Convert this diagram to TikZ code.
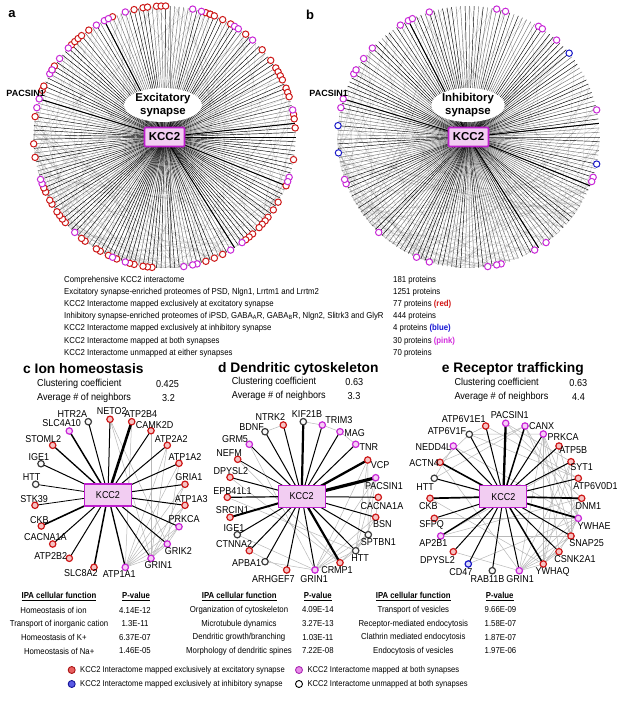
\documentclass[tikz,border=0pt]{standalone}
\usepackage{fontspec}
\setmainfont{Liberation Sans}
\newfontfamily\narrowsf[FakeStretch=0.9]{Liberation Sans}
\usetikzlibrary{shapes.geometric}
\definecolor{rS}{RGB}{205,25,25}
\definecolor{rF}{RGB}{246,196,196}
\definecolor{pS}{RGB}{200,40,215}
\definecolor{pF}{RGB}{246,205,246}
\definecolor{bS}{RGB}{25,25,200}
\definecolor{bF}{RGB}{215,215,250}
\definecolor{gS}{RGB}{60,60,60}
\definecolor{gF}{RGB}{250,250,250}
\definecolor{kF}{RGB}{242,205,242}
\definecolor{kS}{RGB}{190,30,205}
\definecolor{edgeG}{RGB}{185,185,185}
\definecolor{legRF}{RGB}{232,96,96}
\definecolor{legRS}{RGB}{170,20,20}
\definecolor{legBF}{RGB}{90,90,230}
\definecolor{legBS}{RGB}{20,20,150}
\definecolor{legPF}{RGB}{232,140,232}
\definecolor{legPS}{RGB}{170,40,180}
\definecolor{txR}{RGB}{210,20,20}
\definecolor{txB}{RGB}{20,20,210}
\definecolor{txP}{RGB}{210,40,220}

\tikzset{
 every node/.style={inner sep=0pt},
 lst/.style={anchor=west, font=\narrowsf\fontsize{8.65}{10}\selectfont},
 stat/.style={font=\narrowsf\fontsize{10.1}{12}\selectfont},
 statl/.style={anchor=west, font=\narrowsf\fontsize{10.1}{12}\selectfont},
 ttl/.style={anchor=west, font=\fontsize{13.8}{16}\selectfont\bfseries},
 plab/.style={font=\fontsize{13}{15}\selectfont\bfseries},
 nlab/.style={font=\narrowsf\fontsize{10}{11}\selectfont},
 tab/.style={font=\narrowsf\fontsize{8.65}{10}\selectfont},
 leg/.style={anchor=west, font=\narrowsf\fontsize{8.45}{10}\selectfont},
 nd/.style={circle, minimum size=6.4pt, line width=1.2pt},
 rg/.style={circle, minimum size=6.4pt, line width=1pt},
 lgc/.style={circle, minimum size=7pt, line width=0.9pt},
 kbox/.style={draw=kS, fill=kF, line width=1.3pt, minimum width=47pt, minimum height=22pt, font=\narrowsf\fontsize{10}{11}\selectfont},
 bigbox/.style={draw=kS, fill=kF, line width=1.6pt, minimum width=40pt, minimum height=19pt, rounded corners=1pt, font=\fontsize{11.5}{13}\selectfont\bfseries},
 syn/.style={ellipse, fill=white, minimum width=71pt, minimum height=33pt, align=center, font=\fontsize{11.4}{13.4}\selectfont\bfseries},
 gedge/.style={draw=edgeG, line width=0.5pt},
 chord/.style={draw=gray, line width=0.25pt, opacity=0.4},
 spoke/.style={draw=black, line width=0.45pt},
}

% ring helpers (inside a shifted scope)
\newcommand\ringlines[1]{%
 \pgfmathsetseed{#1}%
 \foreach \n in {1,...,170}{%
   \pgfmathsetmacro\ia{round(90+rnd*80)*1.98895}%
   \pgfmathsetmacro\ib{round(rnd*181)*1.98895}%
   \draw[chord] ({131*cos(\ia)},{-131*sin(\ia)}) -- ({131*cos(\ib)},{-131*sin(\ib)});
 }%
 \foreach \i in {0,...,180}{%
   \pgfmathsetmacro\a{\i*1.98895}%
   \pgfmathsetmacro\op{rnd<0.55 ? 1 : 0.55}%
   \draw[spoke, draw opacity=\op] (0,0) -- ({131*cos(\a)},{-131*sin(\a)});
 }%
 \foreach \a in {162.3, 5.3, -21, -58, 118}{%
   \pgfmathsetmacro\b{round(\a/1.98895)*1.98895}%
   \draw[spoke, line width=1pt] (0,0) -- ({131*cos(\b)},{-131*sin(\b)});
 }%
}
\newcommand\ringdots[6]{% #1 prefix, #2 list, #3 cx, #4 cy, #5 stroke, #6 fill
 \foreach \zx/\zy in #2{%
   \pgfmathsetmacro\ang{round(atan2(#4-\zy,\zx-#3)/1.98895)*1.98895}%
   \node[rg, draw=#5, fill=#6] (#1-\zx-\zy) at ({131*cos(\ang)},{-131*sin(\ang)}) {};
 }%
}
\def\pinklist{372/37,578/25,605/32,705/75,718/85,762/120,885/330,875/535,870/550,730/737,695/757,592/797,570/800,550/802,372/790,335/775,220/700,122/548,117/535,107/330,118/292,145/228,152/215,175/180,202/148,285/77,308/62,322/57}
\def\bluelist{800/158,885/497,100/457,100/373}
\def\redlist{405/30,432/22,448/20,465/20,480/20,500/18,612/38,625/42,638/45,650/48,675/60,690/70,740/100,795/150,820/180,832/205,840/215,848/228,855/240,865/265,870/280,875/292,888/345,890/360,893/385,888/480,865/565,845/608,825/635,812/650,800/663,790/680,778/690,766/700,755/710,745/718,665/768,640/780,615/788,455/800,440/798,425/795,410/792,395/787,355/780,325/760,310/752,290/745,258/728,245/712,200/665,190/655,182/645,172/630,163/610,155/598,143/578,135/565,110/467,108/428,113/345,130/268,138/255,160/205,168/195,225/135,232/125,240/115,248/108,270/95,342/55}

% small network panels
\newcommand\netpanel[4]{% #1 prefix, #2 list, #3 kcc coord, #4 gray edges
 \foreach \n/\x/\y/\sty/\lx/\ly/\w in #2 {\coordinate (#1\n) at (\x,\y);}
 \foreach \u/\v in #4 {\draw[gedge] (#1\u) -- (#1\v);}
 \coordinate (#1Kc) at #3;
 \foreach \n/\x/\y/\sty/\lx/\ly/\w in #2 {\draw[line width=\w pt] (#1Kc) -- (#1\n);}
 \node[kbox] (#1K) at (#1Kc) {KCC2};
 \foreach \n/\x/\y/\sty/\lx/\ly/\w in #2 {%
   \node[nd, draw=\sty S, fill=\sty F] (#1N\n) at (#1\n) {};
   \node[nlab] (#1L\n) at (\lx,\ly) {\n};}
}
\def\clist{HTR2A/88.3/421.7/g/72.5/414/1.0,
NETO2/110/419.3/r/111.7/410.7/1.0,
ATP2B4/131.7/421.7/r/140.8/414/2.6,
SLC4A10/69.3/431/p/61.7/423.3/1.5,
CAMK2D/151/430.7/r/154.7/425/1.0,
STOML2/52.7/445.3/r/43.3/439/1.3,
ATP2A2/167.3/445.3/r/171.2/438.7/1.0,
IGE1/41/463.7/g/38.8/457.3/1.0,
ATP1A2/179/463.3/r/185/457.3/1.0,
HTT/35.7/484.3/g/31.7/476.7/0.8,
GRIA1/185/484.3/r/188.8/477.3/1.0,
STK39/35/505.3/r/34.2/499.3/0.8,
ATP1A3/185/505.3/r/191.2/499.3/1.0,
CKB/41.3/526/r/39.5/520/1.6,
PRKCA/179/526.7/p/184.2/519.3/1.0,
CACNA1A/52.7/544/r/45.3/536.7/1.0,
GRIK2/167.3/544/p/178.3/550.7/1.0,
ATP2B2/69.3/558.3/r/50.8/556/1.0,
GRIN1/151/558.3/p/158.3/565.3/1.0,
SLC8A2/94/567.3/r/80.8/573.3/1.5,
ATP1A1/125.3/567.3/p/119.2/574/1.3}
\def\cedges{NETO2/GRIK2,ATP2B4/ATP1A1,CAMK2D/GRIN1,ATP2A2/ATP1A1,ATP2A2/GRIN1,ATP1A2/ATP1A1,ATP1A2/GRIK2,GRIA1/ATP1A1,GRIA1/GRIN1,ATP1A3/ATP1A1,ATP1A3/GRIN1,PRKCA/ATP1A1,PRKCA/GRIN1,PRKCA/GRIK2,GRIK2/ATP1A1,GRIN1/ATP1A1,GRIK2/GRIN1,NETO2/GRIN1}
\def\dlist{KIF21B/303.3/421.7/g/307/414/2.2,
NTRK2/283.3/425/r/270.3/417.3/1.0,
TRIM3/322.3/425/p/338.8/420/1.0,
BDNF/265/431.7/g/251.7/427.3/1.0,
MAG/340/431.7/p/354.5/433.3/1.0,
GRM5/249.3/444.3/p/235/438.7/1.0,
TNR/355.7/444.3/p/368.8/447.3/1.0,
NEFM/237.7/459.3/r/229/452.7/0.8,
VCP/367.7/460/r/380/465.3/2.3,
DPYSL2/230/477.3/r/230.8/471/1.0,
PACSIN1/375.7/477.7/p/384/486/3.2,
EPB41L1/227.3/497.3/r/232.5/490.7/1.2,
CACNA1A/378.3/497.3/r/382/505.7/1.0,
SRCIN1/230/517.3/r/232.5/510/2.0,
BSN/375.7/517.3/r/382.3/524/1.0,
IGE1/237.3/534.7/g/234/528.3/1.0,
SPTBN1/368.3/534.7/g/378.3/541.7/1.0,
CTNNA2/249.3/550.7/r/234.2/544/1.0,
HTT/355.7/550.7/g/360/558.3/1.0,
APBA1/265/561.7/g/246.7/563.3/1.0,
CRMP1/340/562.7/r/337/570/2.2,
ARHGEF7/286.7/570/r/273.3/579/1.0,
GRIN1/315/570/p/314.2/579/1.0}
\def\dedges{BDNF/NTRK2,KIF21B/TRIM3,MAG/TNR,TRIM3/MAG,GRM5/GRIN1,NEFM/CRMP1,DPYSL2/CRMP1,EPB41L1/HTT,IGE1/GRIN1,APBA1/GRIN1,VCP/HTT,VCP/SPTBN1,VCP/GRIN1,PACSIN1/SPTBN1,PACSIN1/HTT,PACSIN1/GRIN1,CACNA1A/BSN,BSN/GRIN1,BSN/HTT,SPTBN1/GRIN1,SPTBN1/HTT,HTT/GRIN1,HTT/CRMP1,SPTBN1/CRMP1,CTNNA2/ARHGEF7}
\def\elist{PACSIN1/505.7/423.3/p/509.7/415/2.3,
ATP6V1E1/485.7/426/r/463.8/418.7/1.0,
CANX/525/426/p/541.7/426/1.5,
ATP6V1F/469.3/434.3/g/447/431/1.0,
PRKCA/543.3/434/p/563/437.3/1.0,
NEDD4L/453.3/446/p/433.3/446.7/1.0,
ATP5B/559/446/r/573.3/450/1.0,
ACTN4/440/462.3/r/424.2/463.3/1.6,
SYT1/571/461.7/r/581.7/467.3/1.0,
HTT/434.3/478.3/g/425/486.7/1.0,
ATP6V0D1/578.3/478.3/r/595.5/486/1.0,
CKB/430/498.3/r/428.3/505.7/1.7,
DNM1/581.7/498.3/r/588.3/505.7/1.7,
SFPQ/434.3/518.3/r/431.7/525/1.0,
YWHAE/578.3/518.3/p/594/525.7/1.7,
AP2B1/440.7/536/p/433.3/543.3/1.4,
SNAP25/571/536/r/586.7/543.3/1.0,
DPYSL2/453.3/551.7/r/437.5/560/1.0,
CSNK2A1/559/551.7/r/575/559/1.0,
CD47/468.3/564/b/460.8/571.7/1.0,
YWHAQ/543.3/564/r/552.5/571.7/1.5,
RAB11B/492.3/570.7/g/487.5/579.3/1.0,
GRIN1/519.3/570.7/p/520/579.3/1.0}
\def\eedges{ATP6V1E1/ATP6V1F,ATP6V1E1/ATP6V0D1,ATP6V1F/ATP6V0D1,ATP6V1F/ACTN4,NEDD4L/HTT,ACTN4/GRIN1,ACTN4/CANX,HTT/YWHAE,HTT/CANX,AP2B1/SNAP25,AP2B1/DNM1,AP2B1/SYT1,PRKCA/YWHAE,PRKCA/YWHAQ,PRKCA/GRIN1,PRKCA/SNAP25,PRKCA/CSNK2A1,ATP5B/YWHAE,ATP5B/YWHAQ,SYT1/SNAP25,SYT1/GRIN1,SYT1/YWHAQ,DNM1/SNAP25,DNM1/GRIN1,YWHAE/YWHAQ,YWHAE/GRIN1,YWHAE/CSNK2A1,SNAP25/GRIN1,SNAP25/YWHAQ,CSNK2A1/GRIN1,CSNK2A1/YWHAQ,YWHAQ/GRIN1,CANX/YWHAE,CANX/SNAP25,PACSIN1/DNM1,DPYSL2/GRIN1,SFPQ/YWHAE,CKB/YWHAQ,PACSIN1/SYT1,ATP6V1F/PRKCA,NEDD4L/YWHAE,CD47/YWHAE}

\begin{document}
\begin{tikzpicture}[x=1pt,y=-1pt]
\useasboundingbox[fill=white] (0,0) rectangle (617,704);

% ---------- panel a ----------
\node[plab] (la) at (12,14) {a};
\begin{scope}[shift={(164.5,137)}]
 \ringlines{11}
 \node[syn] (aEll) at (-1.5,-32) {Excitatory\\synapse};
 \node[bigbox] (aK) at (0,0) {KCC2};
 \ringdots{ar}{\redlist}{495}{411}{rS}{white}
 \ringdots{ap}{\pinklist}{490}{411}{pS}{white}
\end{scope}
\node[anchor=east, font=\fontsize{9}{10}\selectfont\bfseries] (aPac) at (45,93) {PACSIN1};

% ---------- panel b ----------
\node[plab] (lb) at (310,15) {b};
\begin{scope}[shift={(468.5,137)}]
 \ringlines{23}
 \node[syn] (bEll) at (-0.5,-32) {Inhibitory\\synapse};
 \node[bigbox] (bK) at (0,0) {KCC2};
 \ringdots{bp}{\pinklist}{490}{411}{pS}{white}
 \ringdots{bb}{\bluelist}{490}{411}{bS}{white}
\end{scope}
\node[anchor=east, font=\fontsize{9}{10}\selectfont\bfseries] (bPac) at (348,93) {PACSIN1};

% ---------- summary list ----------
\node[lst] (t1) at (64,280) {Comprehensive KCC2 interactome};
\node[lst] (t2) at (64,292) {Excitatory synapse-enriched proteomes of PSD, Nlgn1, Lrrtm1 and Lrrtm2};
\node[lst] (t3) at (64,304) {KCC2 Interactome mapped exclusively at excitatory synapse};
\node[lst] (t4) at (64,316) {Inhibitory synapse-enriched proteomes of iPSD, GABA\textsubscript{A}R, GABA\textsubscript{B}R, Nlgn2, Slitrk3 and GlyR};
\node[lst] (t5) at (64,328) {KCC2 Interactome mapped exclusively at inhibitory synapse};
\node[lst] (t6) at (64,341) {KCC2 Interactome mapped at both synapses};
\node[lst] (t7) at (64,353) {KCC2 Interactome unmapped at either synapses};
\node[lst] (n1) at (393,280) {181 proteins};
\node[lst] (n2) at (393,292) {1251 proteins};
\node[lst] (n3) at (393,304) {77 proteins {\bfseries\color{txR}(red)}};
\node[lst] (n4) at (393,316) {444 proteins};
\node[lst] (n5) at (393,328) {4 proteins {\bfseries\color{txB}(blue)}};
\node[lst] (n6) at (393,341) {30 proteins {\bfseries\color{txP}(pink)}};
\node[lst] (n7) at (393,353) {70 proteins};

% ---------- panel titles and stats ----------
\node[ttl] (tc) at (23,369) {c Ion homeostasis};
\node[statl] (sc1) at (37,384) {Clustering coefficient};
\node[stat] (vc1) at (167.5,384) {0.425};
\node[statl] (sc2) at (37,398) {Average \# of neighbors};
\node[stat] (vc2) at (168.5,398) {3.2};

\node[ttl] (td) at (218,369) {d Dendritic cytoskeleton};
\node[statl] (sd1) at (231.7,382.3) {Clustering coefficient};
\node[stat] (vd1) at (354.3,382.3) {0.63};
\node[statl] (sd2) at (231.7,395.7) {Average \# of neighbors};
\node[stat] (vd2) at (354,395.7) {3.3};

\node[ttl] (te) at (441.7,369) {e Receptor trafficking};
\node[statl] (se1) at (454.3,383.3) {Clustering coefficient};
\node[stat] (ve1) at (578.3,383.3) {0.63};
\node[statl] (se2) at (454.3,396.7) {Average \# of neighbors};
\node[stat] (ve2) at (578.5,396.7) {4.4};

% ---------- networks ----------
\netpanel{c}{\clist}{(108,495)}{\cedges}
\netpanel{d}{\dlist}{(301.7,496.5)}{\dedges}
\netpanel{e}{\elist}{(503.3,496.7)}{\eedges}

% ---------- IPA tables ----------
\node[tab] (hc1) at (59,596.7) {\bfseries\underline{IPA cellular function}};
\node[tab] (hc2) at (136,596.7) {\bfseries\underline{P-value}};
\node[tab] (c1) at (53.5,610) {Homeostasis of ion};
\node[tab] (c2) at (59,624) {Transport of inorganic cation};
\node[tab] (c3) at (53.8,637.7) {Homeostasis of K+};
\node[tab] (c4) at (59.2,651) {Homeostasis of Na+};
\node[tab] (pc1) at (135,610) {4.14E-12};
\node[tab] (pc2) at (135,624) {1.3E-11};
\node[tab] (pc3) at (135,637.7) {6.37E-07};
\node[tab] (pc4) at (135,651) {1.46E-05};

\node[tab] (hd1) at (239.2,596.7) {\bfseries\underline{IPA cellular function}};
\node[tab] (hd2) at (317.8,596.7) {\bfseries\underline{P-value}};
\node[tab] (d1) at (239,610) {Organization of cytoskeleton};
\node[tab] (d2) at (239,624) {Microtubule dynamics};
\node[tab] (d3) at (239,637.7) {Dendritic growth/branching};
\node[tab] (d4) at (239,651) {Morphology of dendritic spines};
\node[tab] (pd1) at (317.8,610) {4.09E-14};
\node[tab] (pd2) at (317.8,624) {3.27E-13};
\node[tab] (pd3) at (317.8,637.7) {1.03E-11};
\node[tab] (pd4) at (317.8,651) {7.22E-08};

\node[tab] (he1) at (413.2,596.7) {\bfseries\underline{IPA cellular function}};
\node[tab] (he2) at (499.7,596.7) {\bfseries\underline{P-value}};
\node[tab] (e1) at (413.3,610) {Transport of vesicles};
\node[tab] (e2) at (413.3,624) {Receptor-mediated endocytosis};
\node[tab] (e3) at (413.3,637.7) {Clathrin mediated endocytosis};
\node[tab] (e4) at (413.3,651) {Endocytosis of vesicles};
\node[tab] (pe1) at (500.5,610) {9.66E-09};
\node[tab] (pe2) at (500.5,624) {1.58E-07};
\node[tab] (pe3) at (500.5,637.7) {1.87E-07};
\node[tab] (pe4) at (500.5,651) {1.97E-06};

% ---------- legend ----------
\node[lgc, fill=legRF, draw=legRS] (lg1) at (71.7,670) {};
\node[leg] (lt1) at (80,670) {KCC2 Interactome mapped exclusively at excitatory synapse};
\node[lgc, fill=legBF, draw=legBS] (lg2) at (71.7,684) {};
\node[leg] (lt2) at (80,684) {KCC2 Interactome mapped exclusively at inhibitory synapse};
\node[lgc, fill=legPF, draw=legPS] (lg3) at (299,670) {};
\node[leg] (lt3) at (307.3,670) {KCC2 Interactome mapped at both synapses};
\node[lgc, fill=white, draw=black] (lg4) at (299,684) {};
\node[leg] (lt4) at (307.3,684) {KCC2 Interactome unmapped at both synapses};
\end{tikzpicture}
\end{document}
